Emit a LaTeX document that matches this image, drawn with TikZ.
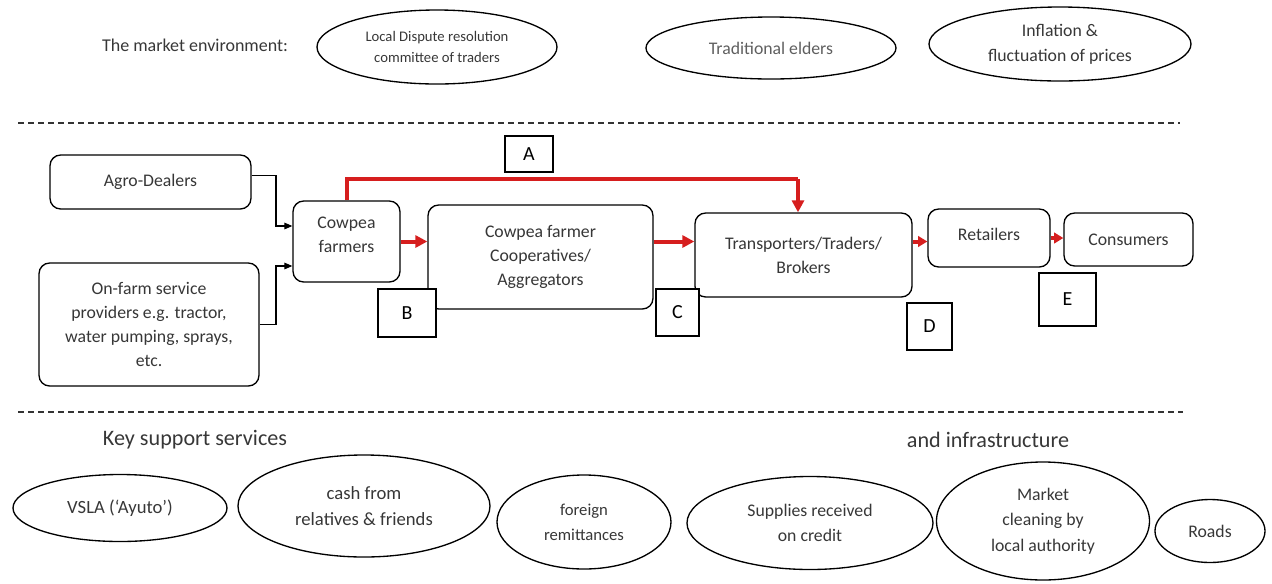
\documentclass[tikz,border=0pt]{standalone}
\usepackage{fontspec}
\setmainfont{Carlito}
\usetikzlibrary{shapes.geometric,arrows.meta}
\newcommand{\pu}{0.75pt}
\definecolor{flowred}{RGB}{214,30,30}
\definecolor{txtgray}{RGB}{55,55,55}
\definecolor{lightgray}{RGB}{95,95,95}
\tikzset{
  rbox/.style={draw=black, line width=1pt, rounded corners=8pt, fill=white,
    align=center, inner sep=2pt, text=txtgray, font=\fontsize{13.3}{18}\selectfont},
  letterbox/.style={draw=black, line width=0.9pt, fill=white, inner sep=0pt,
    font=\fontsize{15}{17}\selectfont},
  oval/.style={draw=black, line width=1pt, ellipse, inner sep=0pt, align=center,
    text=txtgray, font=\fontsize{13.3}{19}\selectfont},
  redflow/.style={draw=flowred, line width=3pt,
    -{Triangle[length=9pt,width=9pt]}},
  redline/.style={draw=flowred, line width=3pt},
  feed/.style={draw=black, line width=0.8pt, -{Triangle[length=6pt,width=5pt]}},
  sepline/.style={draw=black!80, line width=0.9pt, dash pattern=on 4.5pt off 3pt},
  heading/.style={text=txtgray, font=\fontsize{16.6}{19}\selectfont}
}
\begin{document}
\begin{tikzpicture}[x=0.75pt,y=-0.75pt]
\useasboundingbox (0,0) rectangle (1272,583);

% --- market environment row
\node[text=txtgray, font=\fontsize{13.5}{16}\selectfont] (envlabel) at (195,45) {The market environment:};
\node[oval, font=\fontsize{11}{15.5}\selectfont, minimum width=240*\pu, minimum height=74*\pu] (dispute) at (437,47)
  {Local Dispute resolution\\committee of traders};
\node[oval, text=lightgray, minimum width=250*\pu, minimum height=62*\pu] (elders) at (771,48)
  {Traditional elders};
\node[oval, minimum width=262*\pu, minimum height=74*\pu] (inflation) at (1060,44)
  {Inflation \&\\fluctuation of prices};

\draw[sepline] (18,123) -- (1180,123);

% --- value chain
\node[rbox, minimum width=201*\pu, minimum height=54*\pu] (agro) at (150.5,182) {Agro-Dealers};
\node[rbox, minimum width=220*\pu, minimum height=123*\pu] (onfarm) at (149,324.5)
  {On-farm service\\providers e.g. tractor,\\water pumping, sprays,\\etc.};
\node[rbox, minimum width=107*\pu, minimum height=81*\pu, text height=16pt] (farmers) at (346.5,241.5)
  {Cowpea\\farmers};
\node[rbox, minimum width=225*\pu, minimum height=104*\pu] (coop) at (540.5,257)
  {Cowpea farmer\\Cooperatives/\\Aggregators};
\node[rbox, minimum width=217*\pu, minimum height=84*\pu] (trans) at (803.5,255)
  {Transporters/Traders/\\Brokers};
\node[rbox, minimum width=122*\pu, minimum height=58*\pu, text depth=6pt] (retail) at (989,238)
  {Retailers};
\node[rbox, minimum width=129*\pu, minimum height=53*\pu] (cons) at (1128.5,239.5)
  {Consumers};

% channel letters
\node[letterbox, minimum width=48*\pu, minimum height=36*\pu] (la) at (529,154) {A};
\node[letterbox, minimum width=58*\pu, minimum height=48*\pu] (lb) at (407,313) {B};
\node[letterbox, minimum width=43*\pu, minimum height=47*\pu] (lc) at (677.5,312.5) {C};
\node[letterbox, minimum width=45*\pu, minimum height=47*\pu] (ld) at (929.5,326.5) {D};
\node[letterbox, minimum width=57*\pu, minimum height=53*\pu] (le) at (1067.5,299.5) {E};

% input suppliers feeding the farmers
\coordinate (jagro) at (276,226);
\coordinate (jfarm) at (276,266);
\draw[feed] ([yshift=5pt]agro.east) -| (jagro) -- (jagro -| farmers.west);
\draw[feed] (onfarm.east) -| (jfarm) -- (jfarm -| farmers.west);

% product flows
\coordinate (abend) at (798,179);
\draw[redline, line join=miter] (farmers.north) |- (abend);
\draw[redflow] (abend) -- (abend |- trans.north);
\draw[redflow] (farmers.east) -- (farmers.east -| coop.west);
\draw[redflow] (coop.east |- farmers.east) -- (trans.west |- farmers.east);
\draw[redflow, -{Triangle[length=7pt,width=8pt]}] (trans.east |- farmers.east) -- (retail.west |- farmers.east);
\draw[redflow, -{Triangle[length=7pt,width=8pt]}] (retail.east) -- (retail.east -| cons.west);

\draw[sepline] (18,412) -- (1183,412);

% --- support services and infrastructure
\node[heading] (support) at (195,440) {Key support services};
\node[heading] (infra) at (988,440) {and infrastructure};

\node[oval, font=\fontsize{14}{19}\selectfont, minimum width=214*\pu, minimum height=67*\pu] (vsla) at (120,508) {VSLA (‘Ayuto’)};
\node[oval, font=\fontsize{14}{19}\selectfont, minimum width=252*\pu, minimum height=102*\pu] (cash) at (364,506)
  {cash from\\relatives \& friends};
\node[oval, font=\fontsize{12.5}{19}\selectfont, minimum width=174*\pu, minimum height=94*\pu] (foreign) at (584,522)
  {foreign\\remittances};
\node[oval, minimum width=246*\pu, minimum height=93*\pu] (credit) at (810,523)
  {Supplies received\\on credit};
\node[oval, minimum width=213*\pu, minimum height=118*\pu] (cleaning) at (1043,521)
  {Market\\cleaning by\\local authority};
\node[oval, minimum width=110*\pu, minimum height=63*\pu] (roads) at (1210,531) {Roads};
\end{tikzpicture}
\end{document}
